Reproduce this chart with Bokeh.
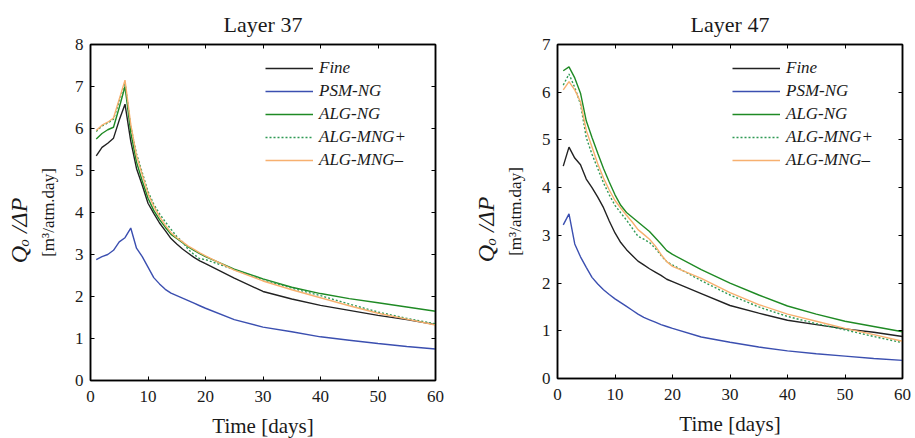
from bokeh.plotting import figure
from bokeh.layouts import row
from bokeh.models import (LinearAxis, Title, Legend, LegendItem, FixedTicker,
                          Range1d)
from bokeh.embed import file_html
from bokeh.resources import INLINE

# ---------------- data ----------------
days = list(range(1, 21)) + [25, 30, 35, 40, 45, 50, 55, 60]

series_names = ["Fine", "PSM-NG", "ALG-NG", "ALG-MNG+", "ALG-MNG\u2013"]

# Layer 37
l37_fine = [5.35, 5.55, 5.65, 5.77, 6.2, 6.58, 5.7, 5.05, 4.65, 4.22, 3.98, 3.75, 3.57, 3.38,
            3.25, 3.13, 3.03, 2.93, 2.85, 2.78, 2.44, 2.12, 1.94, 1.79, 1.67, 1.55, 1.45, 1.33]
l37_psm = [2.88, 2.95, 3.0, 3.1, 3.3, 3.4, 3.63, 3.15, 2.95, 2.7, 2.45, 2.3, 2.17, 2.08,
           2.02, 1.96, 1.9, 1.84, 1.78, 1.72, 1.45, 1.27, 1.16, 1.04, 0.96, 0.88, 0.81, 0.75]
l37_alg = [5.75, 5.88, 5.97, 6.03, 6.5, 7.0, 5.9, 5.2, 4.75, 4.34, 4.05, 3.83, 3.65, 3.48,
           3.38, 3.28, 3.18, 3.1, 3.02, 2.95, 2.65, 2.42, 2.22, 2.07, 1.95, 1.85, 1.75, 1.65]
l37_mngp = [5.93, 6.06, 6.13, 6.22, 6.65, 7.1, 6.05, 5.4, 4.95, 4.5, 4.2, 3.97, 3.78, 3.6,
            3.43, 3.3, 3.12, 3.0, 2.9, 2.88, 2.64, 2.4, 2.2, 2.02, 1.82, 1.63, 1.48, 1.35]
l37_mngm = [5.95, 6.08, 6.15, 6.25, 6.7, 7.15, 6.1, 5.35, 4.9, 4.45, 4.15, 3.9, 3.7, 3.52,
            3.4, 3.3, 3.2, 3.12, 3.04, 2.97, 2.63, 2.37, 2.16, 1.97, 1.78, 1.6, 1.46, 1.32]

# Layer 47
l47_fine = [4.45, 4.85, 4.62, 4.48, 4.18, 4.0, 3.8, 3.58, 3.3, 3.05, 2.85, 2.7, 2.58, 2.46,
            2.38, 2.3, 2.23, 2.16, 2.08, 2.03, 1.78, 1.53, 1.37, 1.22, 1.13, 1.04, 0.97, 0.88]
l47_psm = [3.22, 3.45, 2.82, 2.55, 2.33, 2.12, 1.98, 1.86, 1.76, 1.67, 1.59, 1.51, 1.43, 1.35,
           1.28, 1.23, 1.18, 1.13, 1.09, 1.05, 0.87, 0.76, 0.66, 0.58, 0.52, 0.47, 0.42, 0.38]
l47_alg = [6.45, 6.53, 6.3, 5.98, 5.4, 5.05, 4.72, 4.4, 4.12, 3.85, 3.63, 3.48, 3.38, 3.28,
           3.18, 3.08, 2.95, 2.82, 2.68, 2.6, 2.28, 2.0, 1.75, 1.52, 1.35, 1.2, 1.09, 0.98]
l47_mngp = [6.15, 6.38, 6.1, 5.75, 5.05, 4.7, 4.4, 4.1, 3.85, 3.63, 3.47, 3.32, 3.15, 2.98,
            2.92, 2.85, 2.73, 2.58, 2.45, 2.38, 2.05, 1.75, 1.5, 1.3, 1.15, 1.02, 0.88, 0.75]
l47_mngm = [6.05, 6.22, 6.05, 5.8, 5.2, 4.85, 4.5, 4.2, 3.95, 3.73, 3.57, 3.42, 3.28, 3.12,
            3.02, 2.92, 2.78, 2.6, 2.45, 2.35, 2.1, 1.8, 1.55, 1.35, 1.2, 1.05, 0.92, 0.78]

x_ticks = [0, 10, 20, 30, 40, 50, 60]
y_ticks_37 = [0, 1, 2, 3, 4, 5, 6, 7, 8]
y_ticks_47 = [0, 1, 2, 3, 4, 5, 6, 7]

# ---------------- style ----------------
FONT = "Liberation Serif"
AXFONT = '"Liberation Serif"'
colors = ["#222222", "#3b4fb0", "#1f8a24", "#2f9a55", "#f7b06f"]
dashes = ["solid", "solid", "solid", "2 2", "solid"]


def style_axis(ax, ticks, show_labels=True):
    ax.ticker = FixedTicker(ticks=ticks)
    ax.major_tick_in = 4
    ax.major_tick_out = 0
    ax.minor_tick_line_color = None
    ax.axis_line_width = 1.5
    ax.axis_line_color = "black"
    ax.major_tick_line_color = "black"
    ax.major_tick_line_width = 1
    ax.major_label_text_font = AXFONT
    if show_labels:
        ax.major_label_text_font_size = "17px"
        ax.major_label_text_color = "#1a1a1a"
    else:
        ax.major_label_text_font_size = "1px"
        ax.major_label_text_color = None
        ax.major_label_standoff = 0


def make_plot(title, series, y_max, y_ticks, left_b, right_b, top_b, bottom_b, fh):
    p = figure(frame_width=345, frame_height=fh,
               x_range=Range1d(0, 60), y_range=Range1d(0, y_max),
               output_backend="svg", toolbar_location=None,
               min_border_left=left_b, min_border_right=right_b,
               min_border_top=top_b, min_border_bottom=bottom_b,
               background_fill_color="white", border_fill_color="white")
    p.title.text = title
    p.title.align = "center"
    p.title.text_font = FONT
    p.title.text_font_size = "22px"
    p.title.text_font_style = "normal"
    p.title.text_color = "#1a1a1a"
    p.title.standoff = 16

    p.grid.visible = False
    p.outline_line_color = "black"
    p.outline_line_width = 1.5

    style_axis(p.xaxis[0], x_ticks)
    style_axis(p.yaxis[0], y_ticks)
    p.xaxis[0].major_label_standoff = 10
    p.yaxis[0].major_label_standoff = 7
    p.xaxis[0].axis_label = "Time [days]"
    p.xaxis[0].axis_label_text_font = AXFONT
    p.xaxis[0].axis_label_text_font_style = "normal"
    p.xaxis[0].axis_label_text_font_size = "21px"
    p.xaxis[0].axis_label_text_color = "#1a1a1a"
    p.xaxis[0].axis_label_standoff = 9

    p.yaxis[0].axis_label = "[m\u00b3/atm.day]"
    p.yaxis[0].axis_label_text_font = AXFONT
    p.yaxis[0].axis_label_text_font_style = "normal"
    p.yaxis[0].axis_label_text_font_size = "17px"
    p.yaxis[0].axis_label_text_color = "#1a1a1a"
    p.yaxis[0].axis_label_standoff = 14

    right_ax = LinearAxis()
    style_axis(right_ax, y_ticks, show_labels=False)
    p.add_layout(right_ax, "right")
    top_ax = LinearAxis()
    style_axis(top_ax, x_ticks, show_labels=False)
    p.add_layout(top_ax, "above")

    ylab = Title(text="Q\u2092 /\u0394P" + "\u00a0" * 6, align="center", text_font=FONT,
                 text_font_size="24px", text_font_style="italic",
                 text_color="#1a1a1a", standoff=7)
    p.add_layout(ylab, "left")

    items = []
    for name, ys, c, d in zip(series_names, series, colors, dashes):
        r = p.line(days, ys, line_color=c, line_width=1.4, line_dash=d)
        items.append(LegendItem(label=name, renderers=[r]))

    legend = Legend(items=items, location=(175, fh - 126),
                    border_line_color=None, background_fill_alpha=0,
                    padding=0, margin=0, spacing=3,
                    glyph_width=48, glyph_height=20, label_height=20,
                    label_standoff=6,
                    label_text_font=FONT, label_text_font_style="italic",
                    label_text_font_size="17px", label_text_color="#1a1a1a")
    p.add_layout(legend)
    return p


p1 = make_plot("Layer 37", [l37_fine, l37_psm, l37_alg, l37_mngp, l37_mngm],
               8, y_ticks_37, 90, 32, 43, 59, 336)
p2 = make_plot("Layer 47", [l47_fine, l47_psm, l47_alg, l47_mngp, l47_mngm],
               7, y_ticks_47, 90, 13, 44, 60, 334)

layout = row(p1, p2, spacing=0)
open("out.html", "w").write(file_html(layout, INLINE))
